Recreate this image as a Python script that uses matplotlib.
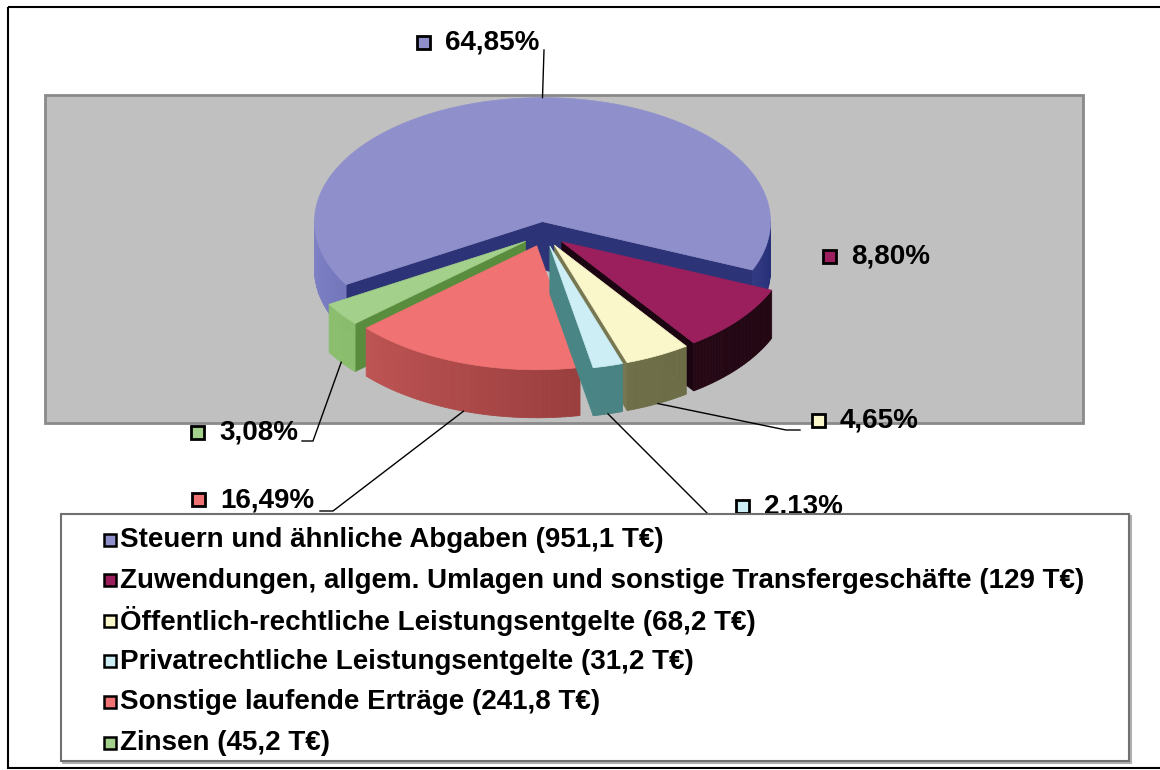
import numpy as np
import matplotlib
matplotlib.use("Agg")
import matplotlib.pyplot as plt
from matplotlib.patches import Polygon, Rectangle
from matplotlib.colors import to_rgb

plt.rcParams['font.family'] = ['Liberation Sans', 'DejaVu Sans']

# data
categories = [
    "Steuern und ähnliche Abgaben",
    "Zuwendungen, allgem. Umlagen und sonstige Transfergeschäfte",
    "Öffentlich-rechtliche Leistungsentgelte",
    "Privatrechtliche Leistungsentgelte",
    "Sonstige laufende Erträge",
    "Zinsen",
]
amount_labels = ["951,1 T€", "129 T€", "68,2 T€", "31,2 T€", "241,8 T€", "45,2 T€"]
values = [951.1, 129.0, 68.2, 31.2, 241.8, 45.2]
pct_labels = ["64,85%", "8,80%", "4,65%", "2.13%", "16,49%", "3,08%"]

# styles
top_colors = ["#8F90CB", "#9A1F5C", "#FAF7CB", "#CCEEF4", "#F07272", "#A3D08A"]
wall_left = ["#8285C8", "#3A0C22", "#7C7C58", "#5A9494", "#D86464", "#92C474"]
wall_right = ["#262E78", "#1E0610", "#66663F", "#3F7777", "#6A2020", "#6FA455"]
radial_colors = ["#2C3376", "#1A0510", "#777752", "#4A8585", "#8A3030", "#5A8C3E"]

CX, CY = 544, 234       # pie centre (pixels)
A, B, H = 228, 124, 48  # ellipse semi-axes and depth
EXPLODE = 0.1
START = 210.5

# label placements: marker x, text x, y, leader path (None = no line)
label_pos = [
    (423, 445, 43, [(544, 50)]),
    (829, 851, 257, None),
    (818, 840, 421, [(800, 430), (786, 430)]),
    (742, 764, 507, [(722, 516), (710, 516)]),
    (198, 220, 500, [(320, 511), (333, 511)]),
    (197, 219, 433, [(302, 441), (313, 441)]),
]


def mix(c1, c2, u):
    a = np.array(to_rgb(c1))
    b = np.array(to_rgb(c2))
    return tuple(a + (b - a) * u)


fig = plt.figure(figsize=(11.6, 7.7), dpi=100)
ax = fig.add_axes([0, 0, 1, 1])
ax.set_xlim(0, 1160)
ax.set_ylim(770, 0)
ax.axis('off')

# frame and plot area
ax.add_patch(Rectangle((8, 7), 1170, 761, fill=False, ec='black', lw=1.5, zorder=0))
ax.add_patch(Rectangle((45, 95), 1038, 328, fc='#C0C0C0', ec='#8A8A8A', lw=2, zorder=1))

# slice angles (clockwise from START)
fracs = np.array(values) / sum(values)
t_hi = START - 360 * np.concatenate([[0], np.cumsum(fracs)[:-1]])
t_lo = t_hi - 360 * fracs
t_mid = (t_hi + t_lo) / 2

centers = []
for i in range(len(values)):
    m = np.radians(t_mid[i])
    centers.append((CX + EXPLODE * A * np.cos(m), CY - EXPLODE * B * np.sin(m)))


def pt(c, t, dz=0.0):
    r = np.radians(t)
    return (c[0] + A * np.cos(r), c[1] - B * np.sin(r) + dz)


order = sorted(range(len(values)), key=lambda i: -np.sin(np.radians(t_mid[i])))
z = 2
for i in order:
    c = centers[i]
    lo, hi = t_lo[i], t_hi[i]
    # radial faces
    if np.cos(np.radians(lo)) > 0:
        p = pt(c, lo)
        ax.add_patch(Polygon([c, p, (p[0], p[1] + H), (c[0], c[1] + H)],
                             fc=radial_colors[i], ec=radial_colors[i], lw=0.5, zorder=z))
    if np.cos(np.radians(hi)) < 0:
        p = pt(c, hi)
        ax.add_patch(Polygon([c, p, (p[0], p[1] + H), (c[0], c[1] + H)],
                             fc=radial_colors[i], ec=radial_colors[i], lw=0.5, zorder=z))
    # outer wall, front part only
    ts = np.linspace(lo, hi, int(abs(hi - lo)) + 2)
    for k in range(len(ts) - 1):
        tm = (ts[k] + ts[k + 1]) / 2
        if np.sin(np.radians(tm)) >= 0:
            continue
        u = ((tm % 360) - 180) / 180
        col = mix(wall_left[i], wall_right[i], u)
        p1, p2 = pt(c, ts[k]), pt(c, ts[k + 1])
        ax.add_patch(Polygon([p1, p2, (p2[0], p2[1] + H), (p1[0], p1[1] + H)],
                             fc=col, ec=col, lw=0.6, zorder=z))
    # top face
    arc = [pt(c, t) for t in np.linspace(lo, hi, 200)]
    ax.add_patch(Polygon([c] + arc, fc=top_colors[i], ec=top_colors[i], lw=0.5, zorder=z + 0.5))
    z += 1

# data labels with leader lines
for i, (mx, tx, ty, path) in enumerate(label_pos):
    ax.add_patch(Rectangle((mx - 6.5, ty - 7), 13, 13, fc=top_colors[i], ec='black', lw=2, zorder=20))
    ax.text(tx, ty, pct_labels[i], fontsize=20, fontweight='bold', va='center', ha='left', zorder=20)
    if path is None:
        continue
    if i == 0:
        anchor = pt(centers[i], 90)
    else:
        anchor = pt(centers[i], t_mid[i], H)
    xs = [p[0] for p in path] + [anchor[0]]
    ys = [p[1] for p in path] + [anchor[1]]
    ax.plot(xs, ys, color='black', lw=1, zorder=19)

# legend box
ax.add_patch(Rectangle((63, 516), 1068, 247, fc='none', ec='#B0B0B0', lw=1.5, zorder=24))
ax.add_patch(Rectangle((61, 514), 1068, 247, fc='white', ec='#707070', lw=1.5, zorder=25))
for i, name in enumerate(categories):
    y = 540 + i * 40.6
    ax.add_patch(Rectangle((104, y - 6.5), 12, 12, fc=top_colors[i], ec='black', lw=1.8, zorder=26))
    ax.text(120, y, f"{name} ({amount_labels[i]})", fontsize=20, fontweight='bold',
            va='center', ha='left', zorder=26)

fig.savefig("out.png", dpi=100)
